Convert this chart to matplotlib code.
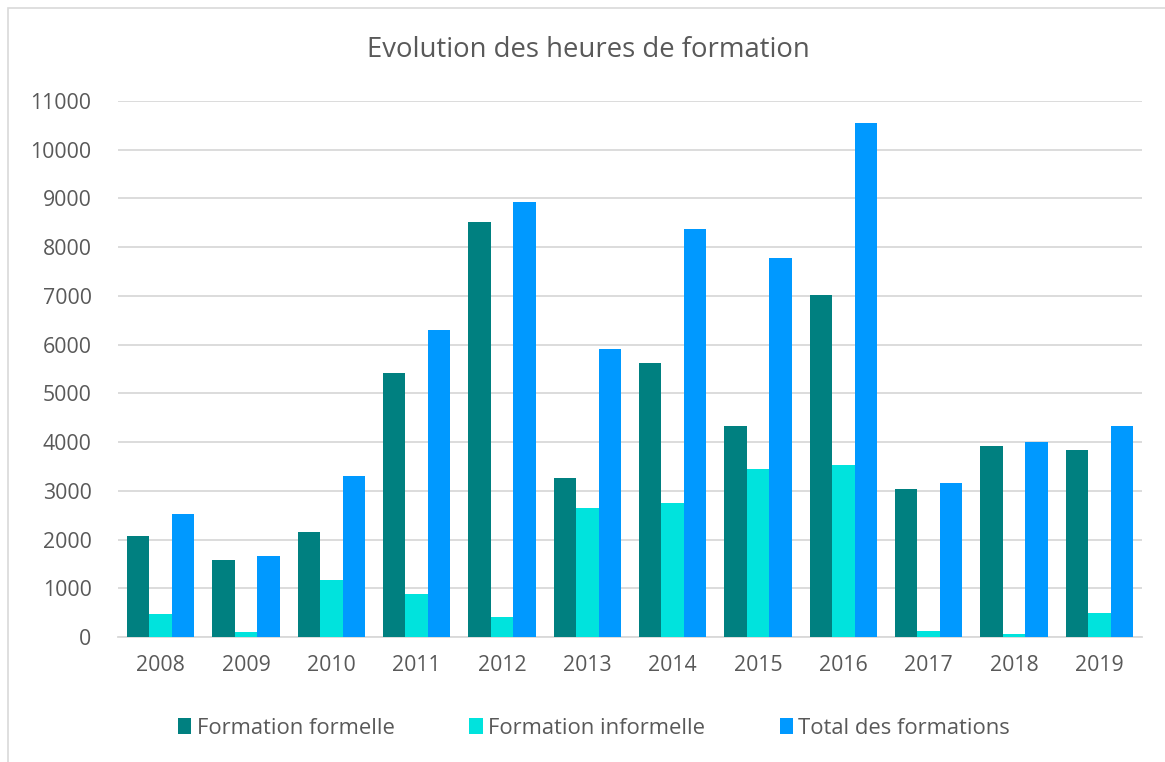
import matplotlib
matplotlib.use('Agg')
import matplotlib.pyplot as plt
from matplotlib.patches import Rectangle
import numpy as np

# Données
annees = ['2008', '2009', '2010', '2011', '2012', '2013', '2014', '2015', '2016', '2017', '2018', '2019']
formelle = [2080, 1570, 2160, 5420, 8520, 3260, 5620, 4340, 7010, 3040, 3930, 3830]
informelle = [470, 100, 1160, 890, 410, 2650, 2760, 3440, 3530, 120, 65, 500]
total = [2530, 1660, 3300, 6300, 8930, 5920, 8380, 7770, 10540, 3160, 4000, 4330]

couleurs = ['#008080', '#00E3DD', '#0099FF']
labels = ['Formation formelle', 'Formation informelle', 'Total des formations']

plt.rcParams['font.family'] = ['Open Sans', 'DejaVu Sans']
gris = '#595959'

fig = plt.figure(figsize=(11.65, 7.62), dpi=100)
ax = fig.add_axes([118 / 1165, 1 - 637 / 762, (1142 - 118) / 1165, (637 - 101) / 762])

x = np.arange(len(annees))
w = 0.263
for i, serie in enumerate([formelle, informelle, total]):
    ax.bar(x + (i - 1) * w, serie, width=w, color=couleurs[i], label=labels[i], zorder=3)

ax.set_xlim(-0.5, len(annees) - 0.5)
ax.set_ylim(0, 11000)
ax.set_yticks(range(0, 11001, 1000))
ax.set_xticks(x)
ax.set_xticklabels(annees)
ax.grid(axis='y', color='#D9D9D9', linewidth=1.3, zorder=0)
for s in ['top', 'right', 'left']:
    ax.spines[s].set_visible(False)
ax.spines['bottom'].set_color('#D9D9D9')
ax.spines['bottom'].set_linewidth(1.3)
ax.tick_params(axis='y', length=0, pad=19, labelsize=15.3, labelcolor=gris)
ax.tick_params(axis='x', length=0, pad=13, labelsize=15.3, labelcolor=gris)

fig.text(0.505, 1 - 50 / 762, 'Evolution des heures de formation', ha='center', va='center',
         fontsize=19.8, color=gris)

leg = fig.legend(loc='center', bbox_to_anchor=(0.51, 1 - 728 / 762), ncol=3, frameon=False,
                 fontsize=15.8, handlelength=0.6, handleheight=0.75, handletextpad=0.25,
                 columnspacing=3.4)
for t in leg.get_texts():
    t.set_color(gris)

# cadre du graphique
fig.patches.append(Rectangle((8 / 1165, -0.1), 1.2, 1.1 - 8 / 762, transform=fig.transFigure,
                             fill=False, edgecolor='#D9D9D9', linewidth=1.2))

fig.savefig('out.png', dpi=100)
